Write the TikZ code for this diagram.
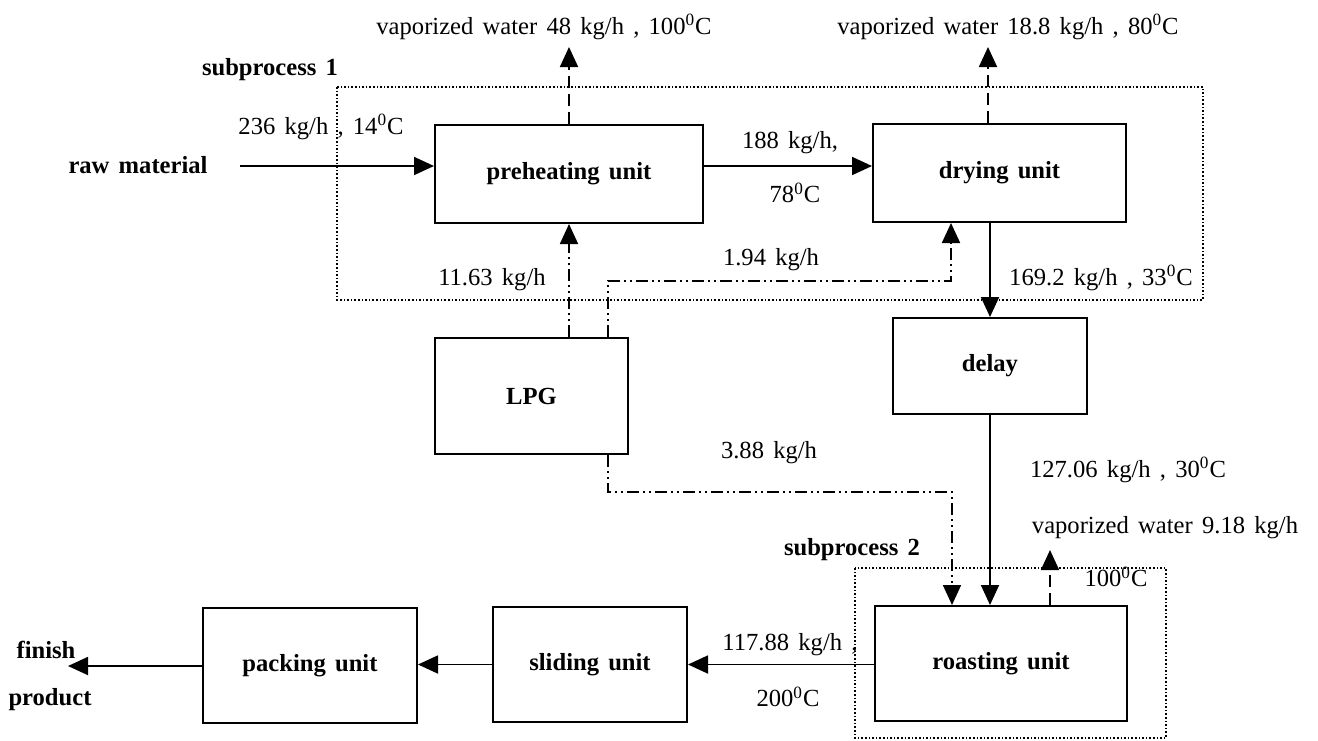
\documentclass[tikz,border=0pt]{standalone}
\usepackage{fontspec}
\setmainfont[WordSpace=1.5]{Liberation Serif}
\usepackage{tikz}
\usetikzlibrary{arrows.meta, positioning}
\newcommand{\lblsize}{\fontsize{12.3}{14}\selectfont}
\newcommand{\degc}{\textsuperscript{0}C}
\tikzstyle{arrow} = [line width=0.9pt, -{Triangle[length=10pt,width=9pt]}]
\tikzstyle{vapour} = [arrow, dash pattern=on 6pt off 3pt]
\tikzstyle{fuel} = [arrow, dash pattern=on 6pt off 2pt on 1pt off 2pt on 1pt off 2pt]
\tikzstyle{zone} = [line width=0.8pt, densely dotted]
\tikzstyle{unitbox} = [draw, line width=1pt, inner sep=0pt, font=\lblsize\bfseries]

\begin{document}
\begin{tikzpicture}[x=0.5pt, y=-0.5pt, every node/.style={font=\lblsize}]
    \useasboundingbox (0,0) rectangle (1318,740);
    % subprocess frames
    \draw[zone] (337,87) rectangle (1203,300);
    \draw[zone] (855,568) rectangle (1166,738);
    \node[font=\lblsize\bfseries] (sub1) at (270,70) {subprocess 1};
    \node[font=\lblsize\bfseries] (sub2) at (852,550) {subprocess 2};

    % units
    \node[unitbox, minimum width=134pt, minimum height=49pt] (preheat) at (569,174) {preheating unit};
    \node[unitbox, minimum width=126.5pt, minimum height=49pt] (drying) at (999.5,173) {drying unit};
    \node[unitbox, minimum width=96.5pt, minimum height=58pt] (lpg) at (531.5,396) {LPG};
    \node[unitbox, minimum width=97pt, minimum height=48pt] (delay) at (990,366) {delay};
    \node[unitbox, minimum width=126pt, minimum height=57.5pt] (roast) at (1001,663.5) {roasting unit};
    \node[unitbox, minimum width=97pt, minimum height=57.5pt] (sliding) at (590,664.5) {sliding unit};
    \node[unitbox, minimum width=107pt, minimum height=57.5pt] (packing) at (310,665.5) {packing unit};

    % free ends
    \coordinate (rawin) at (240,166);
    \coordinate (vap1) at (569,47);
    \coordinate (vap2) at (988,47);
    \coordinate (vap3) at (1050,550);
    \coordinate (out) at (68,666);
    \coordinate (fuelA) at (608,281);
    \coordinate (fuelB) at (951,281);
    \coordinate (fuelC) at (608,492);
    \coordinate (fuelD) at (952,492);

    % material flow
    \draw[arrow] (rawin) -- (rawin -| preheat.west);
    \draw[arrow] (preheat.east |- rawin) -- (drying.west |- rawin);
    \draw[arrow] (delay.north |- drying.south) -- (delay.north);
    \draw[arrow] (delay.south) -- (delay.south |- roast.north);
    \draw[arrow] (roast.west |- sliding.east) -- (sliding.east);
    \draw[arrow] (sliding.west) -- (packing.east |- sliding.west);
    \draw[arrow] (packing.west |- out) -- (out);

    % vaporized water
    \draw[vapour] (preheat.north) -- (vap1);
    \draw[vapour] (vap2 |- drying.north) -- (vap2);
    \draw[vapour] (vap3 |- roast.north) -- (vap3);

    % LPG lines
    \draw[fuel] (lpg.north -| preheat.south) -- (preheat.south);
    \draw[fuel] (fuelA |- lpg.north) -- (fuelA) -- (fuelB) -- (fuelB |- drying.south);
    \draw[fuel] (fuelC |- lpg.south) -- (fuelC) -- (fuelD) -- (fuelD |- roast.north);

    % labels
    \node (vw1) at (544,27) {vaporized water 48 kg/h , 100\degc};
    \node (vw2) at (1008,27) {vaporized water 18.8 kg/h , 80\degc};
    \node (vw3) at (1165,528) {vaporized water 9.18 kg/h};
    \node (t3) at (1116,577) {100\degc};
    \node[font=\lblsize\bfseries] (raw) at (138,165) {raw material};
    \node (f1) at (321,127) {236 kg/h , 14\degc};
    \node (f2) at (790,143) {188 kg/h,};
    \node (t2) at (795,193) {78\degc};
    \node (g1) at (492,280) {11.63 kg/h};
    \node (g2) at (771,260) {1.94 kg/h};
    \node (g3) at (769,453) {3.88 kg/h};
    \node (f3) at (1101,278) {169.2 kg/h , 33\degc};
    \node (f4) at (1128,470) {127.06 kg/h , 30\degc};
    \node (f5) at (790,645) {117.88 kg/h ,};
    \node (t5) at (788,697) {200\degc};
    \node[font=\lblsize\bfseries] (fin1) at (46,650) {finish};
    \node[font=\lblsize\bfseries] (fin2) at (50,700) {product};
\end{tikzpicture}
\end{document}
